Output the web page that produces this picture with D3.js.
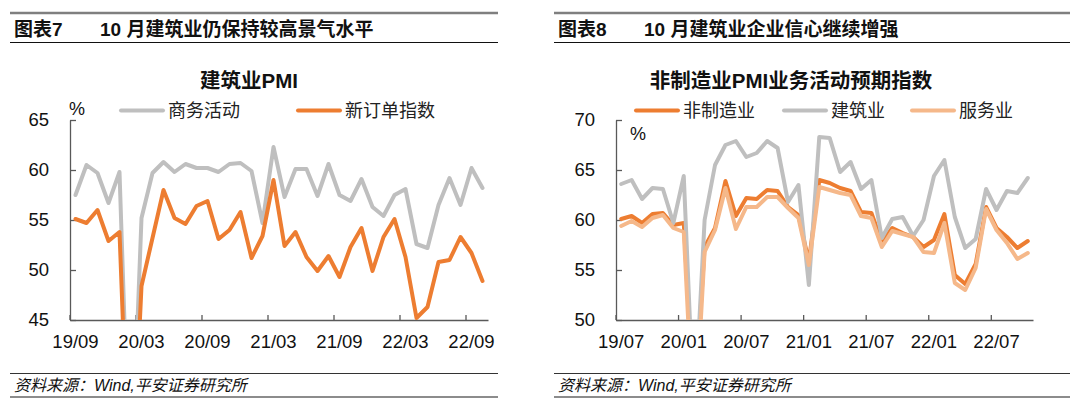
<!DOCTYPE html>
<html>
<head>
<meta charset="utf-8">
<script src="https://cdn.jsdelivr.net/npm/d3@7"></script>
<style>
  body { margin: 0; background: #fff; }
  svg text { font-family: "Liberation Sans", Arial, "Noto Sans CJK SC", sans-serif; }
</style>
</head>
<body>
<div id="main"></div>
<script>
// ---- data: left chart (建筑业PMI) ----
const leftMonths = ["19/09","19/10","19/11","19/12","20/01","20/02","20/03","20/04","20/05","20/06","20/07","20/08",
    "20/09","20/10","20/11","20/12","21/01","21/02","21/03","21/04","21/05","21/06","21/07","21/08",
    "21/09","21/10","21/11","21/12","22/01","22/02","22/03","22/04","22/05","22/06","22/07","22/08","22/09","22/10"];
const leftTicks = ["19/09","20/03","20/09","21/03","21/09","22/03","22/09"];
const bizActivity = [57.5,60.5,59.7,56.7,59.8,26.6,55.2,59.7,60.8,59.8,60.6,60.2,60.2,59.8,60.6,60.7,59.9,54.7,62.3,57.3,
    60.1,60.1,57.4,60.6,57.5,56.9,59.1,56.3,55.4,57.5,58.1,52.6,52.2,56.5,59.2,56.5,60.2,58.2];
const newOrders = [55.1,54.7,56.0,52.9,53.8,25.0,48.4,53.2,58.0,55.2,54.6,56.4,56.9,53.1,54.0,55.8,51.2,53.4,59.0,52.4,
    53.8,51.3,49.9,51.4,49.3,52.3,54.2,49.9,53.3,55.1,51.3,45.2,46.3,50.8,51.0,53.3,51.7,48.9];
const leftYTicks = [45, 50, 55, 60, 65];

// ---- data: right chart (非制造业PMI业务活动预期指数) ----
const rightMonths = ["19/07","19/08","19/09","19/10","19/11","19/12","20/01","20/02","20/03","20/04","20/05","20/06",
    "20/07","20/08","20/09","20/10","20/11","20/12","21/01","21/02","21/03","21/04","21/05","21/06",
    "21/07","21/08","21/09","21/10","21/11","21/12","22/01","22/02","22/03","22/04","22/05","22/06",
    "22/07","22/08","22/09","22/10"];
const rightTicks = ["19/07","20/01","20/07","21/01","21/07","22/01","22/07"];
const nonMfg = [60.1,60.4,59.7,60.6,60.7,59.5,59.7,41.0,57.3,59.2,63.9,60.4,62.2,62.1,63.0,62.9,61.3,60.5,55.8,64.0,
    63.7,63.2,62.9,60.8,60.7,57.8,59.2,58.7,58.3,57.3,58.0,60.6,54.5,53.6,55.6,61.3,59.2,58.3,57.2,57.9];
const construction = [63.6,64.0,62.1,63.2,63.1,59.7,64.4,40.0,60.0,65.5,67.5,67.9,66.3,66.7,67.9,67.2,61.8,63.5,53.5,68.3,
    68.2,64.8,65.8,63.1,64.0,58.2,60.1,60.3,58.4,60.0,64.4,66.0,60.3,57.2,58.1,63.1,61.0,62.9,62.7,64.2];
const services = [59.4,59.9,59.3,60.2,60.5,59.2,58.8,38.0,56.8,59.0,63.2,59.1,61.3,61.3,62.3,62.3,61.2,60.2,55.5,63.3,
    63.0,62.7,62.5,60.4,60.2,57.3,58.9,58.6,58.3,56.8,56.7,59.7,53.7,53.0,55.2,61.1,59.0,57.7,56.1,56.7];
const rightYTicks = [50, 55, 60, 65, 70];

const ORANGE = "#ED7D31", GRAY = "#BFBFBF", LIGHT = "#F5B88A";

const svg = d3.select('#main')
    .append('svg')
    .attr('width', 1080)
    .attr('height', 409);

svg.append('rect').attr('width', 1080).attr('height', 409).attr('fill', '#fff');

// header + footer frame of one panel
function drawFrame(x0, x1, label, title) {
    svg.append('line').attr('x1', x0).attr('x2', x1).attr('y1', 13).attr('y2', 13)
        .attr('stroke', '#7f7f7f').attr('stroke-width', 2.5);
    svg.append('line').attr('x1', x0).attr('x2', x1).attr('y1', 42.5).attr('y2', 42.5)
        .attr('stroke', '#111').attr('stroke-width', 1);
    svg.append('text').attr('x', x0 + 4).attr('y', 35.5)
        .style('font-size', '19px').style('font-weight', 'bold').attr('fill', '#111').text(label);
    svg.append('text').attr('x', x0 + 90).attr('y', 35.5)
        .style('font-size', '19px').style('font-weight', 'bold').attr('fill', '#111').text(title);

    svg.append('line').attr('x1', x0).attr('x2', x1).attr('y1', 373.5).attr('y2', 373.5)
        .attr('stroke', '#333').attr('stroke-width', 1);
    svg.append('text').attr('x', x0 + 4).attr('y', 391)
        .style('font-size', '16px').style('font-style', 'italic').attr('fill', '#111')
        .text('资料来源：Wind,平安证券研究所');
    svg.append('line').attr('x1', x0).attr('x2', x1).attr('y1', 397).attr('y2', 397)
        .attr('stroke', '#8c8c8c').attr('stroke-width', 2);
}

function drawChart(opt) {
    let x = d3.scaleBand().domain(opt.months).range([opt.left, opt.right]);
    let y = d3.scaleLinear().domain(opt.yDomain).range([320, 120]);
    let bw = x.bandwidth();

    // title
    svg.append('text').attr('x', opt.titleX).attr('y', 88).attr('text-anchor', 'middle')
        .style('font-size', '20.5px').style('font-weight', 'bold').attr('fill', '#111').text(opt.title);

    // % label
    svg.append('text').attr('x', opt.pctX).attr('y', opt.pctY)
        .style('font-size', '18px').attr('fill', '#111').text('%');

    // y axis
    let ya = svg.append('g')
        .attr('transform', 'translate(' + opt.left + ',0)')
        .call(d3.axisLeft(y).tickValues(opt.yTicks).tickSizeInner(-6).tickSizeOuter(0).tickPadding(21));
    // x axis, ticks sit on category boundaries, labels on centers
    let xa = svg.append('g')
        .attr('transform', 'translate(0,320)')
        .call(d3.axisBottom(x).tickValues(opt.xTicks).tickSizeInner(-5).tickSizeOuter(0).tickPadding(15));
    xa.selectAll('.tick line').attr('x1', -bw / 2).attr('x2', -bw / 2);

    [ya, xa].forEach(a => {
        a.select('.domain').attr('stroke', '#595959').attr('stroke-width', 1.3);
        a.selectAll('.tick line').attr('stroke', '#595959').attr('stroke-width', 1.3);
        a.selectAll('.tick text').style('font-size', '18.5px').attr('fill', '#111')
            .style('font-family', '"Liberation Sans", Arial, sans-serif');
    });

    // clip so the deep dips stop at the axis
    let clipId = 'clip' + opt.left;
    svg.append('clipPath').attr('id', clipId)
        .append('rect').attr('x', opt.left - 10).attr('y', 60).attr('width', opt.right - opt.left + 20).attr('height', 260);

    let g = svg.append('g').attr('clip-path', 'url(#' + clipId + ')');
    let line = d3.line()
        .x((d, i) => x(opt.months[i]) + bw / 2)
        .y(d => y(d));

    opt.series.forEach(s => {
        g.append('path')
            .attr('d', line(s.values))
            .attr('fill', 'none')
            .attr('stroke', s.color)
            .attr('stroke-width', 4)
            .attr('stroke-linejoin', 'round')
            .attr('stroke-linecap', 'round');
    });

    // legend
    opt.series.forEach(s => {
        svg.append('line').attr('x1', s.lx).attr('x2', s.lx + 42).attr('y1', 110.5).attr('y2', 110.5)
            .attr('stroke', s.color).attr('stroke-width', 4).attr('stroke-linecap', 'round');
        svg.append('text').attr('x', s.lx + 47).attr('y', 117)
            .style('font-size', '18px').attr('fill', '#222').text(s.name);
    });
}

drawFrame(10, 498, '图表7', '10 月建筑业仍保持较高景气水平');
drawFrame(554, 1070, '图表8', '10 月建筑业企业信心继续增强');

drawChart({
    months: leftMonths, xTicks: leftTicks, yTicks: leftYTicks, yDomain: [45, 65],
    left: 70, right: 488, title: '建筑业PMI', titleX: 249, pctX: 69, pctY: 115,
    series: [
        { name: '商务活动', values: bizActivity, color: GRAY, lx: 121 },
        { name: '新订单指数', values: newOrders, color: ORANGE, lx: 298 }
    ]
});

drawChart({
    months: rightMonths, xTicks: rightTicks, yTicks: rightYTicks, yDomain: [50, 70],
    left: 616, right: 1033, title: '非制造业PMI业务活动预期指数', titleX: 791, pctX: 630, pctY: 140,
    series: [
        { name: '非制造业', values: nonMfg, color: ORANGE, lx: 636 },
        { name: '建筑业', values: construction, color: GRAY, lx: 784 },
        { name: '服务业', values: services, color: LIGHT, lx: 912 }
    ]
});
</script>
</body>
</html>
